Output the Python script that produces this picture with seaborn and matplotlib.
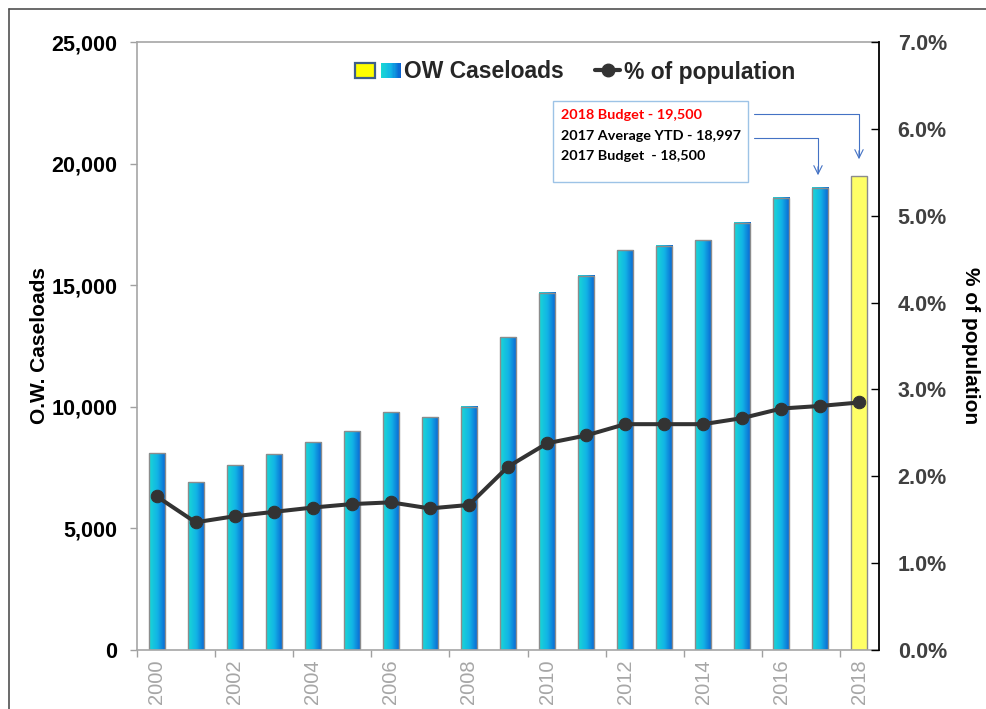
import numpy as np
import pandas as pd
import matplotlib
matplotlib.use("Agg")
import matplotlib.pyplot as plt
import seaborn as sns
from matplotlib.colors import LinearSegmentedColormap
from matplotlib.patches import Rectangle
from matplotlib.lines import Line2D
from matplotlib.legend_handler import HandlerBase
from matplotlib.ticker import FuncFormatter

# ---------------- data ----------------
years = [2000, 2001, 2002, 2003, 2004, 2005, 2006, 2007, 2008, 2009,
         2010, 2011, 2012, 2013, 2014, 2015, 2016, 2017, 2018]
caseloads = [8080, 6900, 7590, 8040, 8540, 8990, 9770, 9580, 10000, 12860,
             14680, 15390, 16430, 16620, 16840, 17570, 18590, 18997, 19500]
pct_population = [0.0177, 0.0147, 0.0154, 0.0159, 0.0164, 0.0168, 0.0170, 0.0163, 0.0167, 0.0211,
                  0.0238, 0.0247, 0.0260, 0.0260, 0.0260, 0.0267, 0.0278, 0.0281, 0.0285]
left_ticks = [0, 5000, 10000, 15000, 20000, 25000]
right_ticks = [0.0, 0.01, 0.02, 0.03, 0.04, 0.05, 0.06, 0.07]
xlabel_years = [2000, 2002, 2004, 2006, 2008, 2010, 2012, 2014, 2016, 2018]
note_lines = ["2018 Budget - 19,500", "2017 Average YTD - 18,997", "2017 Budget  - 18,500"]
note_colors = ["#ff0000", "#000000", "#000000"]
series_names = ["OW Caseloads", "% of population"]

# ---------------- style ----------------
sns.set_theme(style="white")
plt.rcParams['font.family'] = ['Liberation Sans', 'DejaVu Sans']

W, H = 987, 709
fig = plt.figure(figsize=(W / 100, H / 100), dpi=100)

def fx(x):
    return x / W

def fy(y):
    return 1 - y / H

ax_l, ax_r, ax_t, ax_b = 137, 879, 42, 650
ax = fig.add_axes([fx(ax_l), fy(ax_b), (ax_r - ax_l) / W, (ax_b - ax_t) / H])

df = pd.DataFrame({"year": [str(y) for y in years], "caseloads": caseloads})
bar_colors = ["#1ab8e4"] * (len(years) - 1) + ["#ffff66"]
sns.barplot(data=df, x="year", y="caseloads", hue="year", palette=bar_colors,
            legend=False, ax=ax, width=0.41, edgecolor="#8c8c8c", linewidth=1.0,
            saturation=1.0, zorder=2)

grad_cmap = LinearSegmentedColormap.from_list("cb", ["#1ad8d4", "#12b4e6", "#0a62d2"])
gradient = np.linspace(0, 1, 256).reshape(1, -1)
for i, p in enumerate(ax.patches):
    if i == len(years) - 1:
        continue
    x0, w, h = p.get_x(), p.get_width(), p.get_height()
    ax.imshow(gradient, extent=[x0, x0 + w, 0, h], aspect="auto", cmap=grad_cmap,
              interpolation="bicubic", zorder=1.5)
    p.set_facecolor("none")

ax.set_xlim(-0.5, len(years) - 0.5)
ax.set_ylim(0, 25000)
ax.set_yticks(left_ticks)
ax.yaxis.set_major_formatter(FuncFormatter(lambda v, _: f"{v:,.0f}"))
ax.tick_params(axis="y", which="major", direction="out", length=5, width=1, color="#a0a0a0",
               left=True, labelsize=15.5, pad=9, labelcolor="#000000")
for lab in ax.get_yticklabels():
    lab.set_fontweight("bold")

# x ticks: marks at category boundaries every 2, labels on even years
year_idx = {y: i for i, y in enumerate(years)}
ax.set_xticks([year_idx[y] - 0.5 for y in xlabel_years])
ax.set_xticklabels([])
ax.tick_params(axis="x", which="major", direction="out", length=5, width=1, color="#a0a0a0", bottom=True)
ax.set_xticks([year_idx[y] for y in xlabel_years], minor=True)
ax.set_xticklabels([str(y) for y in xlabel_years], minor=True, rotation=90)
ax.tick_params(axis="x", which="minor", length=0, labelsize=14.5, labelcolor="#a6a6a6", pad=7)

ax.set_xlabel("")
ax.set_ylabel("O.W. Caseloads", fontsize=15, fontweight="bold", color="#000000", labelpad=2)
for s in ["left", "bottom", "top"]:
    ax.spines[s].set_color("#a6a6a6")
    ax.spines[s].set_linewidth(1.2)
ax.spines["right"].set_visible(False)

# ---------------- secondary axis ----------------
ax2 = ax.twinx()
sns.lineplot(x=np.arange(len(years)), y=pct_population, ax=ax2, color="#333333",
             linewidth=2.9, marker="o", markersize=9, markeredgecolor="#333333", zorder=5)
ax2.set_xlim(-0.5, len(years) - 0.5)
ax2.set_ylim(0, 0.07)
ax2.set_yticks(right_ticks)
ax2.yaxis.set_major_formatter(FuncFormatter(lambda v, _: f"{v * 100:.1f}%"))
ax2.tick_params(axis="y", direction="in", length=6, width=1, color="#000000", right=True,
                labelsize=15.5, pad=13.5, labelcolor="#404040")
for lab in ax2.get_yticklabels():
    lab.set_fontweight("bold")
ax2.set_ylabel("% of population", fontsize=15, fontweight="bold", rotation=270,
               labelpad=24, color="#000000")
for s in ["left", "bottom", "top"]:
    ax2.spines[s].set_visible(False)
ax2.spines["right"].set_color("#000000")
ax2.spines["right"].set_linewidth(1.3)
ax.set_xlim(-0.5, len(years) - 0.5)

# ---------------- legend ----------------
class CaseHandler(HandlerBase):
    def create_artists(self, legend, orig_handle, xdescent, ydescent, width, height, fontsize, trans):
        arts = []
        rh = height * 0.95
        y0 = -ydescent + (height - rh) / 2
        r1 = Rectangle((-xdescent, y0), width * 0.43, rh, facecolor="#ffff00",
                       edgecolor="#3f5f8a", linewidth=1.6, transform=trans)
        arts.append(r1)
        gx0 = -xdescent + width * 0.565
        gw = width * 0.435
        n = 16
        for k in range(n):
            c = grad_cmap(k / (n - 1))
            arts.append(Rectangle((gx0 + gw * k / n, y0), gw / n * 1.05, rh, facecolor=c,
                                  edgecolor="none", transform=trans))
        return arts


class LineHandler(HandlerBase):
    def create_artists(self, legend, orig_handle, xdescent, ydescent, width, height, fontsize, trans):
        yc = -ydescent + height / 2
        xa = -xdescent + width * 0.45
        xb = -xdescent + width
        ln = Line2D([xa, xb], [yc, yc], color="#333333", linewidth=3, transform=trans)
        mk = Line2D([(xa + xb) / 2], [yc], marker="o", markersize=9, color="#333333",
                    linestyle="none", transform=trans)
        return [ln, mk]


h_case = Rectangle((0, 0), 1, 1)
h_pct = Line2D([0], [0])
fig.legend([h_case, h_pct], series_names, loc="center",
           bbox_to_anchor=(fx(575), fy(72)), ncol=2, frameon=False,
           handler_map={Rectangle: CaseHandler(), Line2D: LineHandler()},
           prop={"family": "Liberation Sans", "weight": "bold", "size": 16.5},
           handlelength=2.0, handleheight=0.65, handletextpad=0.15, columnspacing=0.45)

# ---------------- annotation box ----------------
box = Rectangle((fx(553), fy(182)), fx(748) - fx(553), fy(101) - fy(182),
                transform=fig.transFigure, facecolor="white", edgecolor="#9dc3e6",
                linewidth=1.0, zorder=10)
fig.add_artist(box)
for (txt, col, yy) in zip(note_lines, note_colors, [115, 136, 156]):
    fig.text(fx(561), fy(yy), txt, color=col, fontsize=10.4, fontweight="bold",
             family=["Lato", "DejaVu Sans"], ha="left", va="center", zorder=11)

arrow_col = "#4472c4"
for (yy, xx, yend) in [(114, 859, 162), (138, 818, 178)]:
    fig.add_artist(Line2D([fx(754), fx(xx)], [fy(yy), fy(yy)], transform=fig.transFigure,
                          color=arrow_col, linewidth=0.8, zorder=10))
    fig.add_artist(Line2D([fx(xx), fx(xx)], [fy(yy), fy(yend - 6)], transform=fig.transFigure,
                          color=arrow_col, linewidth=0.8, zorder=10))
    ax.annotate("", xy=(fx(xx), fy(yend)), xycoords="figure fraction",
                xytext=(fx(xx), fy(yend - 14)), textcoords="figure fraction",
                arrowprops=dict(arrowstyle="->,head_length=0.5,head_width=0.25",
                                color=arrow_col, lw=0.8), zorder=10)

# ---------------- outer frame ----------------
fig.add_artist(Line2D([fx(9), fx(9)], [fy(9), 0], transform=fig.transFigure,
                      color="#505050", linewidth=1.2))
fig.add_artist(Line2D([fx(9), 1], [fy(9), fy(9)], transform=fig.transFigure,
                      color="#505050", linewidth=1.2))

fig.savefig("out.png", dpi=100)
